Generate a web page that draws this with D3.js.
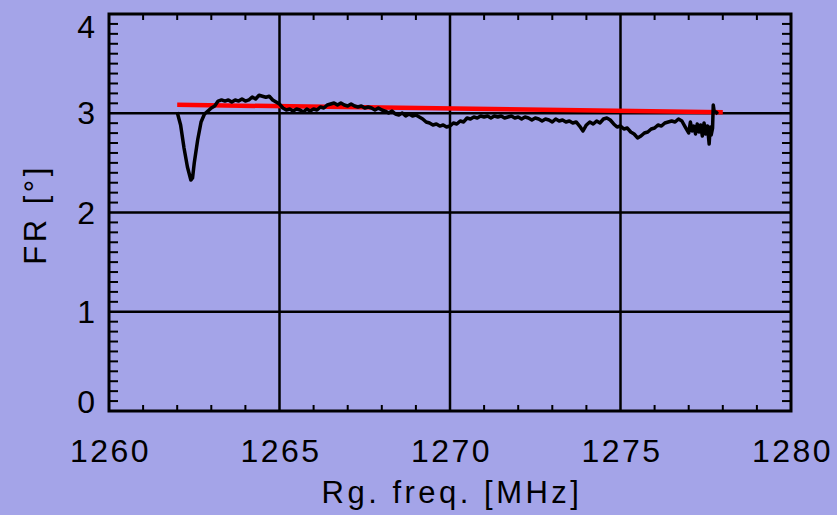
<!DOCTYPE html>
<html>
<head>
<meta charset="utf-8">
<script src="https://cdn.jsdelivr.net/npm/d3@7"></script>
<style>
  html, body { margin: 0; padding: 0; background: #a4a4e8; }
  svg { display: block; }
  text { font-family: "Liberation Sans", Arial, sans-serif; fill: #000; }
</style>
</head>
<body>
<svg id="chart" width="837" height="515"></svg>
<script>
// Measured Faraday rotation across the range-frequency band
const freqMHz = [
  1262.00, 1262.10, 1262.20, 1262.30, 1262.40, 1262.45, 1262.50, 1262.60, 1262.70, 1262.80,
  1262.90, 1263.00, 1263.10, 1263.20, 1263.30, 1263.40, 1263.50, 1263.60, 1263.70, 1263.80,
  1263.90, 1264.00, 1264.10, 1264.20, 1264.30, 1264.40, 1264.50, 1264.60, 1264.70, 1264.80,
  1264.90, 1265.00, 1265.10, 1265.20, 1265.30, 1265.40, 1265.50, 1265.60, 1265.70, 1265.80,
  1265.90, 1266.00, 1266.10, 1266.20, 1266.30, 1266.40, 1266.50, 1266.60, 1266.70, 1266.80,
  1266.90, 1267.00, 1267.10, 1267.20, 1267.30, 1267.40, 1267.50, 1267.60, 1267.70, 1267.80,
  1267.90, 1268.00, 1268.10, 1268.20, 1268.30, 1268.40, 1268.50, 1268.60, 1268.70, 1268.80,
  1268.90, 1269.00, 1269.10, 1269.20, 1269.30, 1269.40, 1269.50, 1269.60, 1269.70, 1269.80,
  1269.90, 1270.00, 1270.10, 1270.20, 1270.30, 1270.40, 1270.50, 1270.60, 1270.70, 1270.80,
  1270.90, 1271.00, 1271.10, 1271.20, 1271.30, 1271.40, 1271.50, 1271.60, 1271.70, 1271.80,
  1271.90, 1272.00, 1272.10, 1272.20, 1272.30, 1272.40, 1272.50, 1272.60, 1272.70, 1272.80,
  1272.90, 1273.00, 1273.10, 1273.20, 1273.30, 1273.40, 1273.50, 1273.60, 1273.70, 1273.80,
  1273.90, 1274.00, 1274.10, 1274.20, 1274.30, 1274.40, 1274.50, 1274.60, 1274.70, 1274.80,
  1274.90, 1275.00, 1275.10, 1275.20, 1275.30, 1275.40, 1275.50, 1275.60, 1275.70, 1275.80,
  1275.90, 1276.00, 1276.10, 1276.20, 1276.30, 1276.40, 1276.50, 1276.60, 1276.70, 1276.80,
  1276.90, 1277.00, 1277.05, 1277.10, 1277.15, 1277.20, 1277.25, 1277.30, 1277.35, 1277.40,
  1277.45, 1277.50, 1277.55, 1277.60, 1277.63, 1277.66, 1277.70, 1277.72, 1277.75, 1277.80,
  1277.85
];
const frDeg = [
  3.010, 2.882, 2.650, 2.458, 2.327, 2.348, 2.499, 2.730, 2.912, 2.992,
  3.022, 3.053, 3.073, 3.123, 3.134, 3.123, 3.134, 3.113, 3.134, 3.123,
  3.144, 3.123, 3.134, 3.164, 3.144, 3.181, 3.171, 3.161, 3.171, 3.134,
  3.113, 3.093, 3.053, 3.033, 3.043, 3.022, 3.043, 3.033, 3.013, 3.043,
  3.022, 3.043, 3.033, 3.063, 3.053, 3.083, 3.093, 3.103, 3.083, 3.103,
  3.083, 3.073, 3.093, 3.073, 3.063, 3.073, 3.053, 3.063, 3.053, 3.033,
  3.053, 3.033, 3.022, 3.002, 3.022, 2.992, 2.982, 3.002, 2.972, 2.992,
  2.972, 2.982, 2.962, 2.942, 2.912, 2.902, 2.882, 2.892, 2.871, 2.882,
  2.861, 2.871, 2.902, 2.892, 2.922, 2.912, 2.952, 2.942, 2.962, 2.952,
  2.972, 2.962, 2.972, 2.952, 2.972, 2.962, 2.972, 2.952, 2.962, 2.972,
  2.952, 2.962, 2.942, 2.962, 2.952, 2.932, 2.952, 2.942, 2.922, 2.942,
  2.932, 2.912, 2.942, 2.922, 2.932, 2.912, 2.922, 2.902, 2.912, 2.871,
  2.821, 2.882, 2.912, 2.892, 2.922, 2.902, 2.942, 2.952, 2.932, 2.892,
  2.861, 2.871, 2.841, 2.851, 2.811, 2.791, 2.751, 2.771, 2.801, 2.811,
  2.841, 2.851, 2.882, 2.871, 2.902, 2.912, 2.922, 2.912, 2.942, 2.922,
  2.861, 2.801, 2.912, 2.821, 2.871, 2.791, 2.892, 2.811, 2.882, 2.771,
  2.902, 2.791, 2.871, 2.690, 2.861, 2.781, 2.851, 3.083, 3.013, 3.013,
  2.992
];

// Linear fit across the band
const fitFreq = [1262.0, 1278.0];
const fitFR = [3.085, 3.010];

const xTicks = [1260, 1265, 1270, 1275, 1280];
const yTicks = [0, 1, 2, 3, 4];
const xTitle = "Rg. freq. [MHz]";
const yTitle = "FR [\u00b0]";

const W = 837, H = 515;
const margin = { top: 14, right: 46, bottom: 104, left: 109 };
const x0 = margin.left, x1 = W - margin.right;
const y0 = H - margin.bottom, y1 = margin.top;

const x = d3.scaleLinear().domain([1260, 1280]).range([x0, x1]);
const y = d3.scaleLinear().domain([0, 4]).range([y0, y1]);

const svg = d3.select("#chart");

svg.append("rect").attr("width", W).attr("height", H).attr("fill", "#a4a4e8");

// Grid at interior major ticks
const grid = svg.append("g").attr("stroke", "#000").attr("stroke-width", 2.5);
grid.selectAll("line.gx").data(xTicks.slice(1, -1)).join("line")
  .attr("x1", d => x(d)).attr("x2", d => x(d)).attr("y1", y0).attr("y2", y1);
grid.selectAll("line.gy").data(yTicks.slice(1, -1)).join("line")
  .attr("y1", d => y(d)).attr("y2", d => y(d)).attr("x1", x0).attr("x2", x1);

// Fit line
svg.append("path")
  .datum(d3.zip(fitFreq, fitFR))
  .attr("fill", "none").attr("stroke", "#ff0000").attr("stroke-width", 4.5)
  .attr("d", d3.line().x(d => x(d[0])).y(d => y(d[1])));

// Measured curve
svg.append("path")
  .datum(d3.zip(freqMHz, frDeg))
  .attr("fill", "none").attr("stroke", "#000").attr("stroke-width", 3.5)
  .attr("stroke-linejoin", "round")
  .attr("d", d3.line().x(d => x(d[0])).y(d => y(d[1])));

// Minor ticks (inward) on all four sides
const xMinor = d3.range(1261, 1280, 1).filter(v => v % 5 !== 0);
const yMinor = d3.range(1, 40).map(v => v / 10).filter(v => Math.abs(v - Math.round(v)) > 1e-6);
const ticks = svg.append("g").attr("stroke", "#000").attr("stroke-width", 2);
ticks.selectAll("line.xb").data(xMinor).join("line")
  .attr("x1", d => x(d)).attr("x2", d => x(d)).attr("y1", y0).attr("y2", y0 - 6);
ticks.selectAll("line.xt").data(xMinor).join("line")
  .attr("x1", d => x(d)).attr("x2", d => x(d)).attr("y1", y1).attr("y2", y1 + 6);
ticks.selectAll("line.yl").data(yMinor).join("line")
  .attr("y1", d => y(d)).attr("y2", d => y(d)).attr("x1", x0).attr("x2", x0 + 9);
ticks.selectAll("line.yr").data(yMinor).join("line")
  .attr("y1", d => y(d)).attr("y2", d => y(d)).attr("x1", x1).attr("x2", x1 - 9);

// Frame
svg.append("rect")
  .attr("x", x0).attr("y", y1).attr("width", x1 - x0).attr("height", y0 - y1)
  .attr("fill", "none").attr("stroke", "#000").attr("stroke-width", 3);

// Tick labels
svg.append("g").selectAll("text").data(xTicks).join("text")
  .attr("x", d => x(d) + 1.5).attr("y", 462)
  .attr("text-anchor", "middle").style("font-size", "32px").style("letter-spacing", "2.5px")
  .text(d => d);

const labelHalf = 12;
svg.append("g").selectAll("text").data(yTicks).join("text")
  .attr("x", 95)
  .attr("y", d => Math.max(y1 + labelHalf + 1, Math.min(y0 - labelHalf + 3, y(d))) + 11)
  .attr("text-anchor", "end").style("font-size", "32px")
  .text(d => d);

// Axis titles
svg.append("text")
  .attr("x", (x0 + x1) / 2 + 2).attr("y", 503)
  .attr("text-anchor", "middle").style("font-size", "31px").style("letter-spacing", "3.5px")
  .text(xTitle);

svg.append("text")
  .attr("transform", `translate(46, ${(y0 + y1) / 2 + 2}) rotate(-90)`)
  .attr("text-anchor", "middle").style("font-size", "31px").style("letter-spacing", "3.5px")
  .text(yTitle);
</script>
</body>
</html>
